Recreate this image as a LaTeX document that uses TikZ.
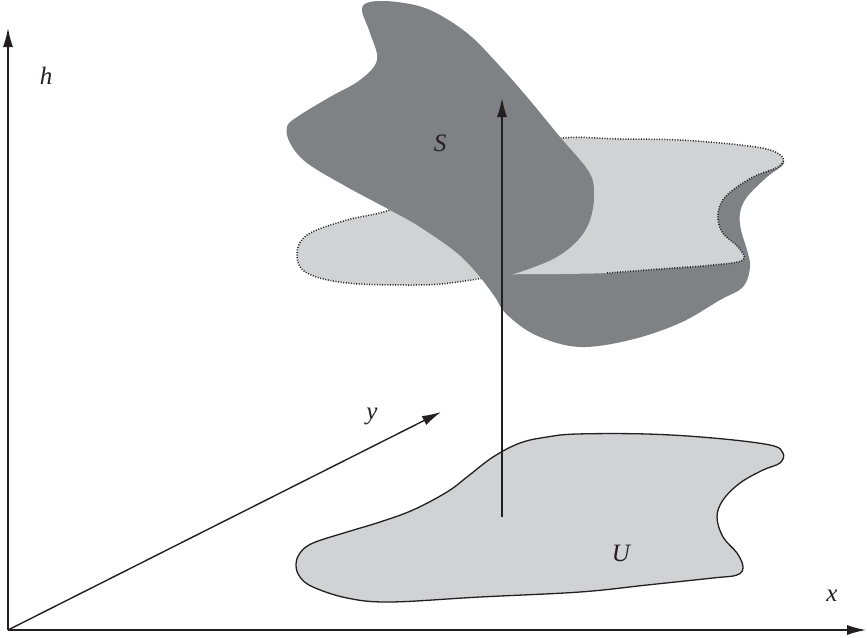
\documentclass[tikz,border=0pt]{standalone}
\usepackage{fontspec}
\setmainfont{Liberation Serif}
\usetikzlibrary{arrows.meta}
\definecolor{darkpatch}{HTML}{808185}
\definecolor{lightpatch}{HTML}{D1D2D4}
\definecolor{ink}{HTML}{231F20}

\begin{document}
\begin{tikzpicture}[x=1pt,y=-1pt,
  axis/.style={draw=ink,line width=1.4pt,-{Latex[length=19pt,width=10pt]}},
  lbl/.style={font=\fontsize{25}{30}\selectfont\itshape,text=ink,inner sep=0pt},
  surf/.style={fill=darkpatch},
  plane/.style={fill=lightpatch},
  rim/.style={draw=ink,line width=1.5pt,dash pattern=on 1pt off 1.6pt}
]
\useasboundingbox (0,0) rectangle (867,637);

% axes
\coordinate (o)    at (8,630);
\coordinate (htip) at (8,28);
\coordinate (xtip) at (866,630);
\coordinate (ytip) at (441,412);
\draw[axis] (o) -- (htip);
\draw[axis] (o) -- (xtip);
\draw[axis] (o) -- (ytip);
\node[lbl] (hl) at (46,76)   {h};
\node[lbl] (xl) at (832,596) {x};
\node[lbl] (yl) at (372,416) {y};

% domain U
\filldraw[plane,draw=ink,line width=1.3pt] plot[smooth cycle,tension=0.6] coordinates {
  (296,565) (300,553) (313,543) (347,532) (380,522) (413,510) (447,492)
  (467,477) (493,457) (520,443) (547,437) (577,434) (647,434) (713,438)
  (770,445) (783,453) (780,463) (763,470) (740,483) (723,500) (717,517)
  (723,537) (737,553) (743,567) (737,575) (713,578) (647,585) (580,592)
  (480,597) (390,602) (347,598) (313,587) (300,577)};
\node[lbl] (ul) at (621,553) {U};

% surface S, part under the plane
\fill[surf] plot[smooth cycle,tension=0.6] coordinates {
  (497,300) (513,320) (540,337) (580,347) (630,340) (680,323) (720,300)
  (743,287) (750,267) (747,250) (741,230) (740,213) (747,197) (767,177)
  (784,163) (770,155) (700,150) (600,150) (520,200) (490,265)};

% plane
\fill[plane] plot[smooth cycle,tension=0.6] coordinates {
  (502,275) (450,283) (413,285) (347,283) (307,273) (297,255) (307,235)
  (347,220) (390,210) (450,185) (520,150) (563,138) (620,139) (680,140)
  (740,145) (770,150) (783,158) (778,167) (753,177) (727,195) (718,213)
  (722,232) (738,247) (743,260) (713,265) (660,269) (607,273) (560,274)};
\draw[rim] plot[smooth,tension=0.6] coordinates {
  (502,275) (450,283) (413,285) (347,283) (307,273) (297,255) (307,235)
  (347,220) (390,210) (450,185) (520,150) (563,138) (620,139) (680,140)
  (740,145) (770,150) (783,158) (778,167) (753,177) (727,195) (718,213)
  (722,232) (738,247) (743,260) (713,265) (660,269) (607,273)};

% surface S, part above the plane
\fill[surf] plot[smooth,tension=0.6] coordinates {
  (497,300) (480,277) (457,253) (420,227) (390,210) (347,187) (307,163)
  (290,143) (287,127) (297,117) (330,97) (360,80) (377,60) (370,33)
  (362,10) (370,2) (397,2) (430,10) (467,33) (497,63) (527,97) (560,137)
  (589,172) (594,195) (590,220) (578,240) (555,258) (520,272) (502,276)}
  -- cycle;
\node[lbl] (sl) at (440,143) {S};

% normal
\coordinate (nbase) at (502,517);
\coordinate (ntip)  at (502,98);
\draw[axis] (nbase) -- (ntip);
\end{tikzpicture}
\end{document}
